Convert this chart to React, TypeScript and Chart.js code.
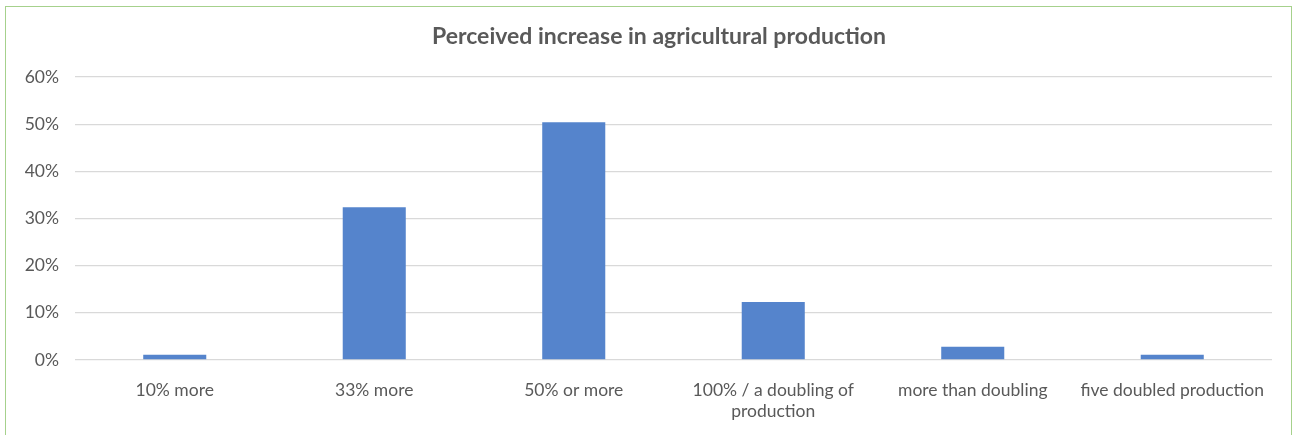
import React, { useEffect, useRef } from "react";
import { Chart, registerables } from "chart.js";

Chart.register(...registerables);

const categories: (string | string[])[] = [
  "10% more",
  "33% more",
  "50% or more",
  ["100% / a doubling of", "production"],
  "more than doubling",
  "five doubled production",
];
const values = [1.1, 32.4, 50.4, 12.3, 2.8, 1.1];
const yMin = 0;
const yMax = 60;
const yStep = 10;
const titleText = "Perceived increase in agricultural production";

const titlePlugin = {
  id: "customTitle",
  afterDraw(chart: any) {
    const ctx = chart.ctx;
    ctx.save();
    ctx.font = "bold 23px Lato";
    ctx.fillStyle = "#595959";
    ctx.textAlign = "center";
    ctx.textBaseline = "middle";
    ctx.fillText(titleText, 659, 37);
    ctx.restore();
  },
};

export default function App() {
  const ref = useRef<HTMLCanvasElement | null>(null);
  useEffect(() => {
    if (!ref.current) return;
    const chart = new Chart(ref.current, {
      type: "bar",
      data: {
        labels: categories,
        datasets: [
          {
            data: values,
            backgroundColor: "#5584CC",
            borderWidth: 0,
            barPercentage: 0.316,
            categoryPercentage: 1,
          },
        ],
      },
      plugins: [titlePlugin],
      options: {
        animation: false,
        responsive: false,
        devicePixelRatio: 1,
        layout: { padding: { left: 0, right: 26, top: 77, bottom: 0 } },
        plugins: {
          legend: { display: false },
          tooltip: { enabled: false },
          title: { display: false },
        },
        scales: {
          x: {
            grid: { display: false, drawTicks: false },
            border: { display: false },
            ticks: {
              color: "#595959",
              font: { family: "Lato", size: 17.5, lineHeight: 1.2 },
              padding: 19.5,
              maxRotation: 0,
              autoSkip: false,
            },
            afterFit: (s: any) => {
              s.height = 75;
            },
          },
          y: {
            min: yMin,
            max: yMax,
            grid: { color: "#D9D9D9", lineWidth: 1.3, drawTicks: false },
            border: { display: false },
            ticks: {
              stepSize: yStep,
              color: "#595959",
              font: { family: "Lato", size: 17.5 },
              padding: 16,
              callback: (v: any) => `${v}%`,
            },
            afterFit: (s: any) => {
              s.width = 75;
            },
          },
        },
      },
    });
    return () => chart.destroy();
  }, []);
  return (
    <div style={{ position: "fixed", left: 0, top: 0, width: 1298, height: 435, background: "#fff" }}>
      <canvas ref={ref} width={1298} height={435} style={{ position: "absolute", left: 0, top: 0 }} />
      <div
        style={{
          position: "absolute",
          left: 5,
          top: 6,
          width: 1287,
          height: 440,
          border: "1.5px solid #A6D18C",
          pointerEvents: "none",
          boxSizing: "border-box",
        }}
      />
    </div>
  );
}
